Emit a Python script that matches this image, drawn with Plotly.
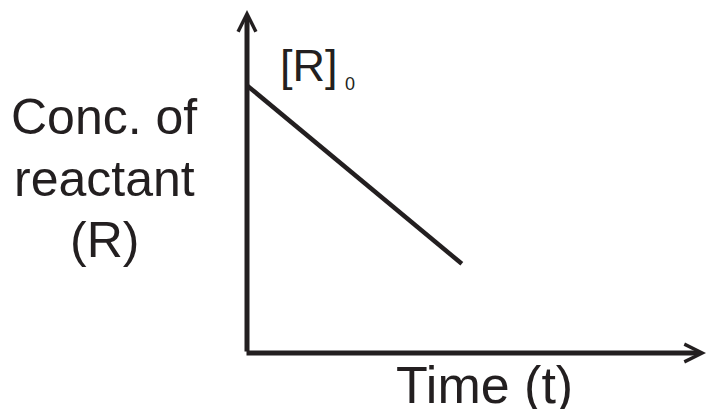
import plotly.graph_objects as go

# ---- data ----
time_vals = [0.0, 4.67]          # time (t), arbitrary units
conc_vals = [7.8, 2.6]           # concentration of reactant [R]
y_label_lines = ["Conc. of", "reactant", "(R)"]
x_label = "Time (t)"
r0_label = "[R]"
r0_sub = "0"

# ---- layout constants (pixels) ----
W, H = 707, 409
ML, MR, MT, MB = 247, 0, 10, 56
PW = W - ML - MR
PH = H - MT - MB
INK = "#231f20"
FONT = "Liberation Sans, Arial, sans-serif"


def px_x(p):
    return (p - ML) / PW


def px_y(p):
    return (H - MB - p) / PH


fig = go.Figure()
fig.add_trace(go.Scatter(
    x=time_vals, y=conc_vals, mode="lines",
    line=dict(color=INK, width=4.5), hoverinfo="skip", showlegend=False,
))

annotations = []
# y axis arrow
annotations.append(dict(
    xref="paper", yref="paper", x=0, y=1, ax=0, ay=PH,
    axref="pixel", ayref="pixel", text="", showarrow=True,
    arrowhead=5, arrowwidth=5, arrowsize=0.7, arrowcolor=INK,
))
# x axis arrow
tip_x = 716
annotations.append(dict(
    xref="paper", yref="paper", x=px_x(tip_x), y=0, ax=245 - tip_x, ay=0,
    axref="pixel", ayref="pixel", text="", showarrow=True,
    arrowhead=5, arrowwidth=5, arrowsize=0.7, arrowcolor=INK,
))

# y label lines
for txt, cy in zip(y_label_lines, [117, 179, 240]):
    annotations.append(dict(
        xref="paper", yref="paper", x=px_x(104), y=px_y(cy),
        xanchor="center", yanchor="middle", text=txt, showarrow=False,
        font=dict(family=FONT, size=50, color=INK),
    ))

# x label
annotations.append(dict(
    xref="paper", yref="paper", x=px_x(484), y=px_y(385),
    xanchor="center", yanchor="middle", text=x_label, showarrow=False,
    font=dict(family=FONT, size=52, color=INK),
))

# [R]0 label
annotations.append(dict(
    xref="paper", yref="paper", x=px_x(308.5), y=px_y(66),
    xanchor="center", yanchor="middle", text=r0_label, showarrow=False,
    font=dict(family=FONT, size=45, color=INK),
))
annotations.append(dict(
    xref="paper", yref="paper", x=px_x(350), y=px_y(83.5),
    xanchor="center", yanchor="middle", text=r0_sub, showarrow=False,
    font=dict(family=FONT, size=18, color=INK),
))

fig.update_layout(
    width=W, height=H,
    margin=dict(l=ML, r=MR, t=MT, b=MB, pad=0),
    paper_bgcolor="white", plot_bgcolor="white",
    xaxis=dict(range=[0, 10], visible=False, fixedrange=True),
    yaxis=dict(range=[0, 10], visible=False, fixedrange=True),
    annotations=annotations,
    showlegend=False,
)

fig.write_html(
    "out.html",
    config={"displayModeBar": False},
    post_script="document.body.style.margin='0';document.body.style.overflow='hidden';",
)
